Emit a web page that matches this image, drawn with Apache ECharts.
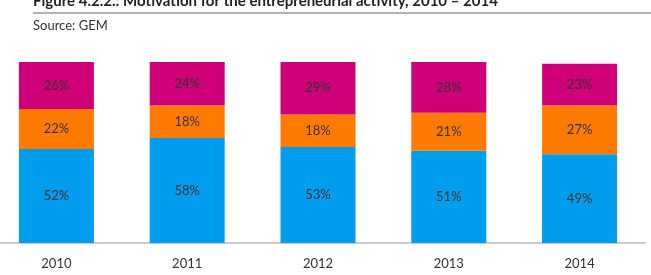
<!DOCTYPE html>
<html>
<head>
<meta charset="utf-8">
<script src="https://cdn.jsdelivr.net/npm/echarts@6/dist/echarts.min.js"></script>
<style>
  html, body { margin: 0; padding: 0; background: #fff; overflow: hidden; }
  /* chart is shifted left so the first category sits where the original does */
  #chart { width: 660px; height: 275px; margin-left: -9px; }
</style>
</head>
<body>
<div id="chart"></div>
<script>
// 数据
var years = ['2010', '2011', '2012', '2013', '2014'];
var bottomVals = [52, 58, 53, 51, 49];
var middleVals = [22, 18, 18, 21, 27];
var topVals = [26, 24, 29, 28, 23];

(function () {
    var chart = echarts.init(document.getElementById('chart'));
    var font = 'Lato, "Open Sans", sans-serif';
    var dx = 9; // offset for the shifted div

    var label = {
        show: true,
        position: 'inside',
        formatter: '{c}%',
        color: '#333',
        fontFamily: font,
        fontSize: 13
    };

    function makeSeries(name, data, color) {
        return {
            name: name,
            type: 'bar',
            stack: 'total',
            barWidth: 75,
            data: data,
            itemStyle: { color: color },
            label: label
        };
    }

    var option = {
        animation: false,
        graphic: [
            {
                type: 'text',
                left: 33 + dx,
                top: -6,
                style: {
                    text: 'Figure 4.2.2.: Motivation for the entrepreneurial activity, 2010 \u2013 2014',
                    font: 'bold 15px ' + font,
                    fill: '#222'
                }
            },
            {
                type: 'line',
                shape: { x1: 33 + dx, y1: 13, x2: 660, y2: 13 },
                style: { stroke: '#999', lineWidth: 1.5 }
            },
            {
                type: 'text',
                left: 33 + dx,
                top: 19,
                style: {
                    text: 'Source: GEM',
                    font: '13px ' + font,
                    fill: '#333'
                }
            }
        ],
        grid: {
            left: 0,
            right: 6,
            top: 62,
            bottom: 32
        },
        xAxis: {
            type: 'category',
            data: years,
            axisLine: { lineStyle: { color: '#bbb', width: 1.5 } },
            axisTick: { show: false },
            axisLabel: {
                color: '#333',
                fontFamily: font,
                fontSize: 13,
                margin: 14
            }
        },
        yAxis: {
            type: 'value',
            min: 0,
            max: 100,
            show: false,
            splitLine: { show: false }
        },
        series: [
            makeSeries('Necessity', bottomVals, '#009cee'),
            makeSeries('Mixed', middleVals, '#ff7a00'),
            makeSeries('Opportunity', topVals, '#cf0077')
        ]
    };

    chart.setOption(option);
    window.addEventListener('resize', function () {
        chart.resize();
    });
})();
</script>
</body>
</html>
